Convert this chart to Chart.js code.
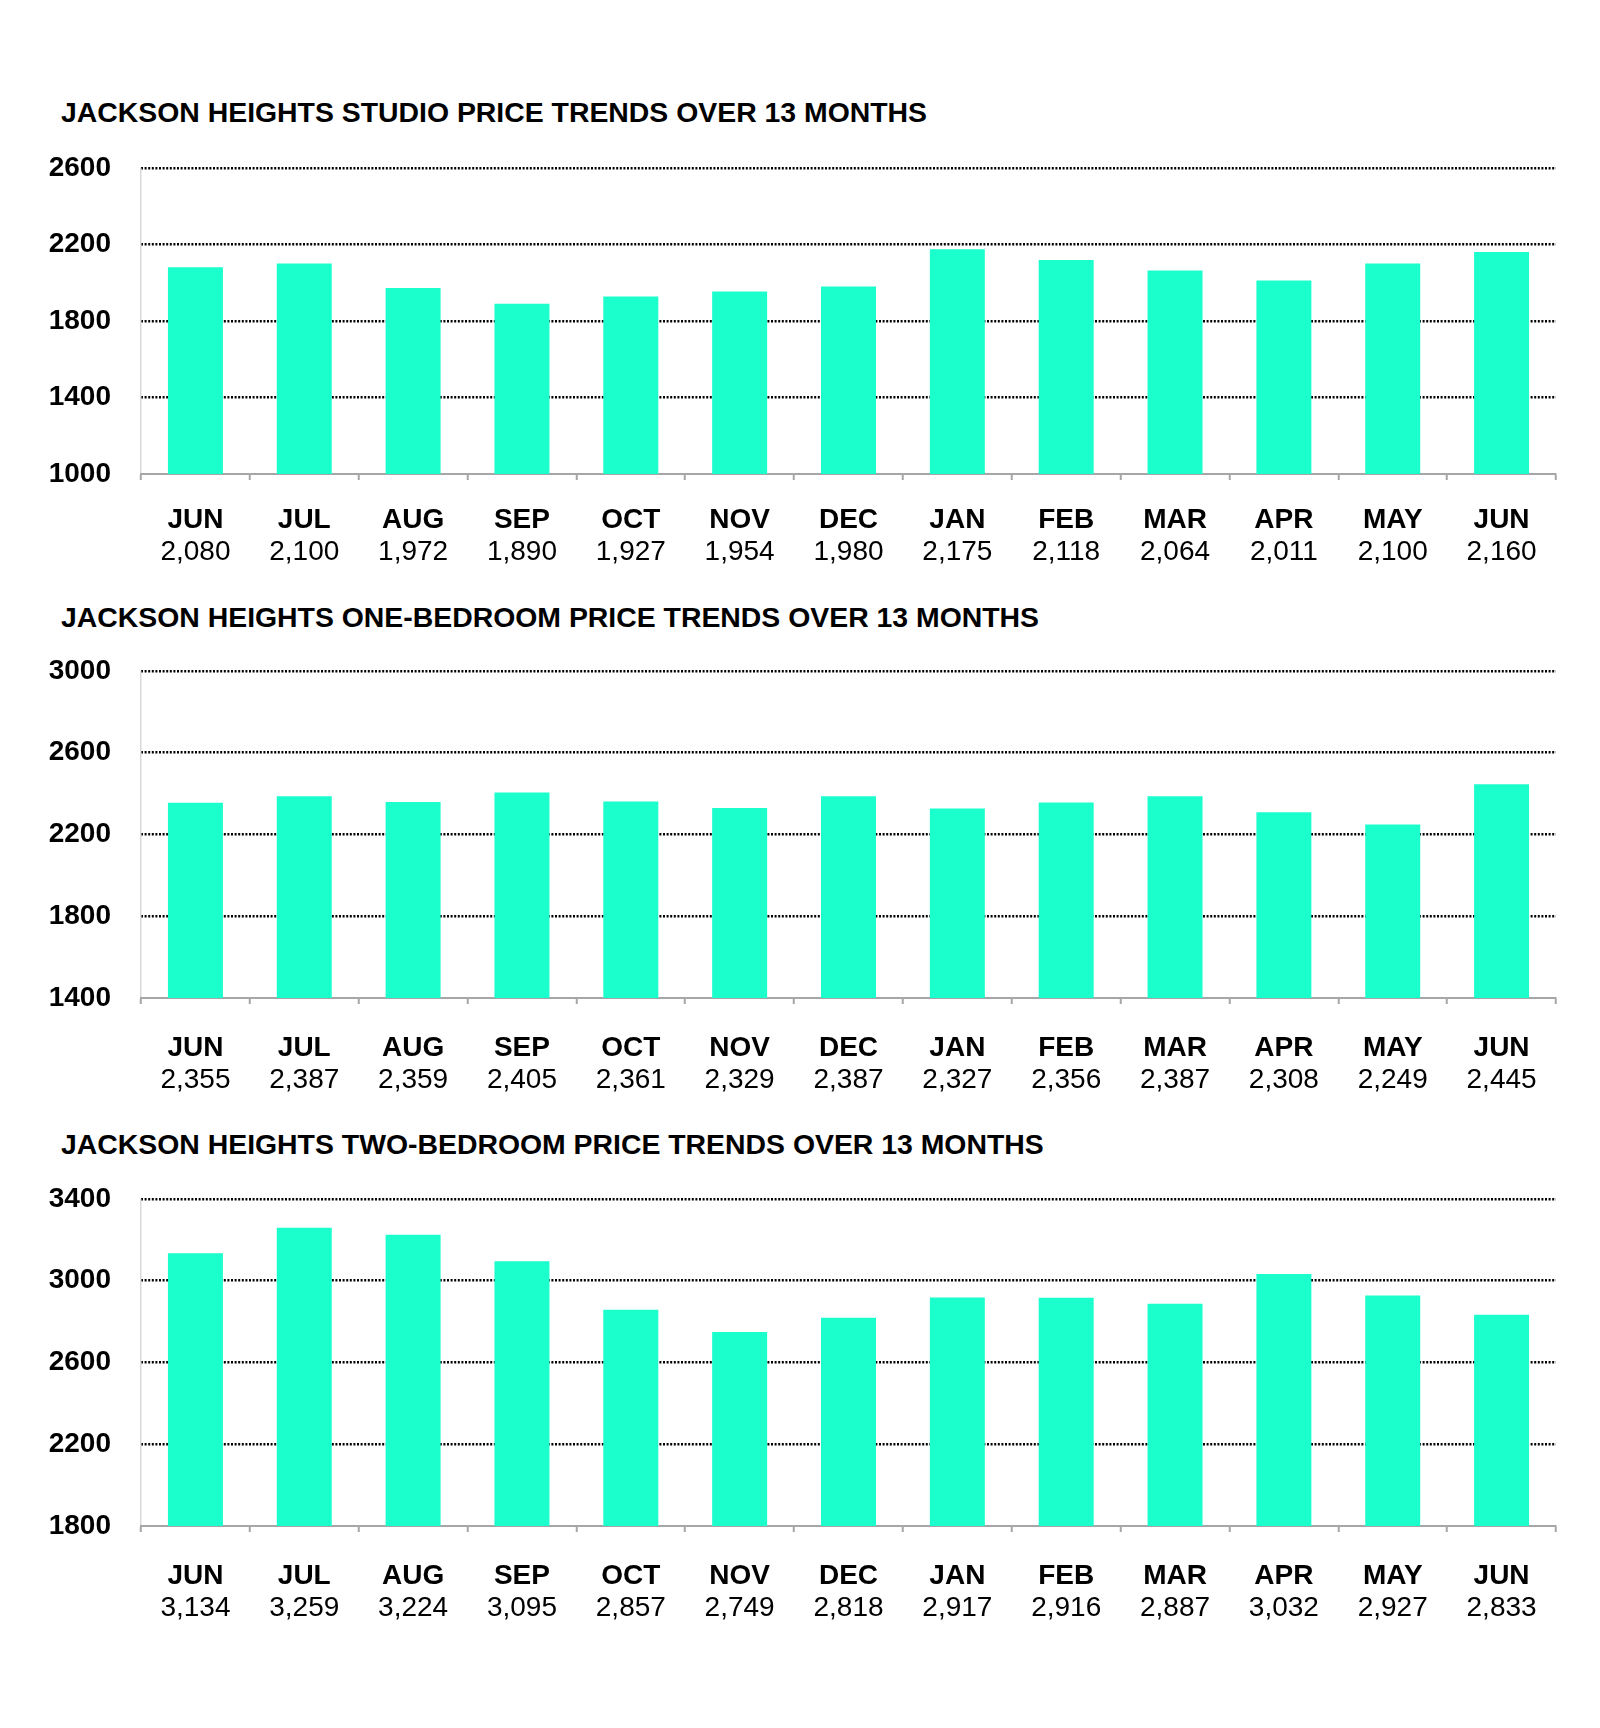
<!DOCTYPE html>
<html>
<head>
<meta charset="utf-8">
<script src="https://cdn.jsdelivr.net/npm/chart.js@4.4.1/dist/chart.umd.min.js"></script>
<style>
  html, body { margin: 0; padding: 0; background: #ffffff; }
  body { width: 1600px; height: 1728px; position: relative; overflow: hidden; }
  .title { position: absolute; left: 61px; font-family: 'Liberation Sans', Arial, sans-serif; font-weight: bold; font-size: 28.4px; line-height: 34px; color: #000; white-space: nowrap; }
  canvas { position: absolute; left: 0; }
</style>
</head>
<body>
<div class="title" id="t1" style="top:95px">JACKSON HEIGHTS STUDIO PRICE TRENDS OVER 13 MONTHS</div>
<div class="title" id="t2" style="top:600px">JACKSON HEIGHTS ONE-BEDROOM PRICE TRENDS OVER 13 MONTHS</div>
<div class="title" id="t3" style="top:1127px">JACKSON HEIGHTS TWO-BEDROOM PRICE TRENDS OVER 13 MONTHS</div>
<canvas id="c1" width="1600" height="463" style="top:121px"></canvas>
<canvas id="c2" width="1600" height="488" style="top:624px"></canvas>
<canvas id="c3" width="1600" height="488" style="top:1152px"></canvas>
<script>
// ---- data ----
const months = ['JUN','JUL','AUG','SEP','OCT','NOV','DEC','JAN','FEB','MAR','APR','MAY','JUN'];
const studioPrices = [2080,2100,1972,1890,1927,1954,1980,2175,2118,2064,2011,2100,2160];
const oneBedPrices = [2355,2387,2359,2405,2361,2329,2387,2327,2356,2387,2308,2249,2445];
const twoBedPrices = [3134,3259,3224,3095,2857,2749,2818,2917,2916,2887,3032,2927,2833];
const studioTicks = [1000,1400,1800,2200,2600];
const oneBedTicks = [1400,1800,2200,2600,3000];
const twoBedTicks = [1800,2200,2600,3000,3400];

// ---- styling ----
const FONT = "'Liberation Sans', Arial, sans-serif";
Chart.defaults.font.family = FONT;
const BAR_COLOR = '#1affcc';

function fmt(v) { return v.toLocaleString('en-US'); }

function makeChart(id, values, ticks, monthPad, xHeight) {
  const yMin = ticks[0], yMax = ticks[ticks.length - 1];
  const step = ticks[1] - ticks[0];
  const n = months.length;
  return new Chart(document.getElementById(id), {
    type: 'bar',
    data: {
      labels: months,
      datasets: [{
        data: values,
        backgroundColor: BAR_COLOR,
        borderWidth: 0,
        barPercentage: 0.505,
        categoryPercentage: 1.0,
        xAxisID: 'x',
        yAxisID: 'y'
      }]
    },
    options: {
      responsive: false,
      animation: false,
      events: [],
      layout: { padding: { top: 20, right: 44, left: 0, bottom: 0 } },
      plugins: { legend: { display: false }, tooltip: { enabled: false }, title: { display: false } },
      scales: {
        y: {
          min: yMin, max: yMax,
          afterFit: (s) => { s.width = 141; },
          ticks: {
            stepSize: step,
            padding: 30,
            color: '#000',
            font: { size: 28, weight: 'bold' },
            callback: (v) => String(v)
          },
          grid: {
            drawTicks: false,
            lineWidth: 2.5,
            color: (ctx) => (ctx.tick && ctx.tick.value === yMin) ? 'rgba(0,0,0,0)' : '#000',
            borderDash: [2, 1.6]
          },
          border: { display: false, dash: [2, 1.6] }
        },
        x: {
          type: 'category',
          position: 'bottom',
          weight: 0,
          offset: true,
          afterFit: (s) => { s.height = xHeight; },
          ticks: {
            padding: monthPad,
            color: '#000',
            font: { size: 28, weight: 'bold' },
            maxRotation: 0, autoSkip: false
          },
          grid: {
            offset: true,
            drawOnChartArea: true,
            drawTicks: true,
            tickLength: 6,
            tickWidth: 2,
            tickColor: '#a6a6a6',
            lineWidth: 1.5,
            color: (ctx) => (ctx.index === 0 || ctx.index === n) ? '#d9d9d9' : 'rgba(0,0,0,0)'
          },
          border: { display: true, color: '#a6a6a6', width: 2 }
        },
        x2: {
          type: 'category',
          position: 'bottom',
          weight: 1,
          offset: true,
          labels: values.map(fmt),
          afterFit: (s) => { s.height = 50; },
          ticks: {
            padding: 1,
            color: '#000',
            font: { size: 28, weight: 'normal' },
            maxRotation: 0, autoSkip: false
          },
          grid: { display: false, drawTicks: false },
          border: { display: false }
        }
      }
    }
  });
}

makeChart('c1', studioPrices, studioTicks, 23, 60);
makeChart('c2', oneBedPrices, oneBedTicks, 27, 64);
makeChart('c3', twoBedPrices, twoBedTicks, 27, 64);
</script>
</body>
</html>
